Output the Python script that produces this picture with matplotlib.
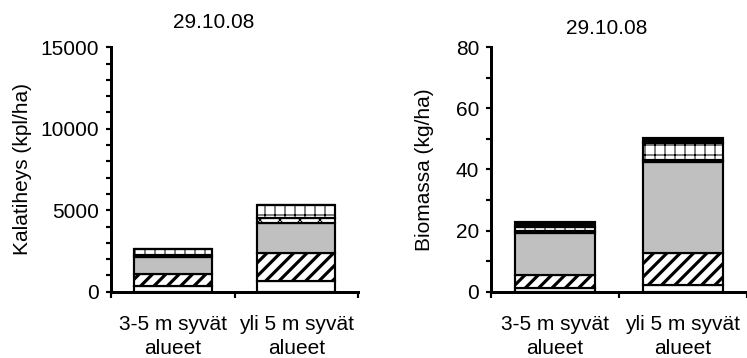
import numpy as np
import matplotlib.pyplot as plt

plt.rcParams['font.family'] = ['Liberation Sans', 'DejaVu Sans']
plt.rcParams['font.size'] = 12.5

# categories (x axis)
categories = ["3-5 m syvät\nalueet", "yli 5 m syvät\nalueet"]
title = "29.10.08"

# stacked segments, bottom -> top (no legend in the picture, named by look)
dens_white = [350, 655]
dens_diag = [730, 1735]
dens_grey = [1030, 1810]
dens_zigzag = [140, 300]
dens_grid = [350, 830]
dens_black = [0, 0]

bio_white = [1.1, 2.2]
bio_diag = [4.4, 10.4]
bio_grey = [13.8, 29.7]
bio_zigzag = [0.5, 0.8]
bio_grid = [1.5, 5.7]
bio_black = [1.4, 1.6]

# style of each segment: facecolor, hatch, hatch linewidth
styles = [
    ('white', '', 1.0),
    ('white', '///', 1.9),
    ('#c0c0c0', '', 1.0),
    ('white', 'xx', 0.6),
    ('white', '++', 0.6),
    ('black', '', 1.0),
]


def stacked(ax, segments):
    x = np.arange(len(categories))
    bottom = np.zeros(len(categories))
    for vals, (fc, hatch, hlw) in zip(segments, styles):
        vals = np.asarray(vals, dtype=float)
        bars = ax.bar(x, vals, bottom=bottom, width=0.63, color=fc,
                      edgecolor='black', linewidth=1.3, hatch=hatch, zorder=2)
        for b in bars:
            if hasattr(b, 'set_hatch_linewidth'):
                b.set_hatch_linewidth(hlw)
        bottom += vals
    ax.set_xlim(-0.5, 1.5)
    ax.set_xticks(x)
    ax.set_xticklabels(categories, linespacing=1.3)
    ax.set_xticks([-0.5, 0.5, 1.5], minor=True)
    ax.tick_params(axis='x', which='major', length=0, pad=14)
    ax.tick_params(axis='x', which='minor', direction='out', length=3.5, width=1.3)
    ax.tick_params(axis='y', which='both', direction='out', length=3, width=1.3,
                   pad=4)
    for s in ['top', 'right']:
        ax.spines[s].set_visible(False)
    for s in ['left', 'bottom']:
        ax.spines[s].set_linewidth(1.8)


fig = plt.figure(figsize=(747 / 120, 358 / 120), dpi=120)

# left: Kalatiheys
ax1 = fig.add_axes([0.1486, 0.1852, 0.3307, 0.6827])
stacked(ax1, [dens_white, dens_diag, dens_grey, dens_zigzag, dens_grid, dens_black])
ax1.set_ylim(0, 15000)
ax1.set_yticks([0, 5000, 10000, 15000])
ax1.set_yticks(np.arange(0, 15001, 1000), minor=True)
ax1.set_ylabel('Kalatiheys (kpl/ha)')
ax1.yaxis.set_label_coords(-0.321, 0.5)
ax1.text(0.416, 1.08, title, transform=ax1.transAxes, ha='center',
         va='baseline')

# right: Biomassa
ax2 = fig.add_axes([0.6573, 0.1852, 0.3427, 0.6827])
stacked(ax2, [bio_white, bio_diag, bio_grey, bio_zigzag, bio_grid, bio_black])
ax2.set_ylim(0, 80)
ax2.set_yticks([0, 20, 40, 60, 80])
ax2.set_yticks(np.arange(0, 81, 10), minor=True)
ax2.set_ylabel('Biomassa (kg/ha)')
ax2.yaxis.set_label_coords(-0.2245, 0.5)
ax2.text(0.45, 1.055, title, transform=ax2.transAxes, ha='center',
         va='baseline')

for ax in (ax1, ax2):
    ax.spines['left'].set_zorder(3)
    ax.spines['bottom'].set_zorder(3)
    ax.patch.set_alpha(0)

fig.savefig('out.png', dpi=120)
